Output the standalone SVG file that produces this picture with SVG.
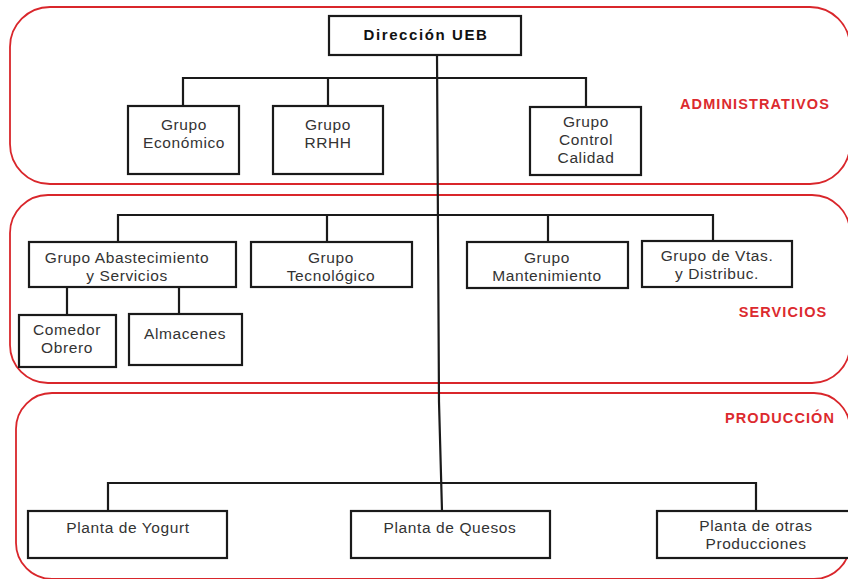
<svg xmlns="http://www.w3.org/2000/svg" width="848" height="579" viewBox="0 0 848 579">
<style>
.region{fill:none;stroke:#d9262b;stroke-width:1.8}
.box{fill:#fff;stroke:#1a1a1a;stroke-width:2.2}
.t{font-family:"Liberation Sans",Arial,sans-serif;font-size:15.5px;fill:#333;text-anchor:middle;letter-spacing:0.6px}
.tb{font-family:"Liberation Sans",Arial,sans-serif;font-size:15px;font-weight:bold;fill:#111;text-anchor:middle;letter-spacing:1.6px}
.lab{font-family:"Liberation Sans",Arial,sans-serif;font-size:14.5px;font-weight:bold;fill:#dc2a2e;text-anchor:middle;letter-spacing:1.1px}
.c{fill:none;stroke:#1a1a1a;stroke-width:2.2}
</style>
<rect width="848" height="579" fill="#fff"/>
<g id="regions">
<rect class="region" x="10" y="7" width="840" height="177" rx="40" ry="40"/>
<rect class="region" x="10" y="195" width="840" height="188" rx="38" ry="38"/>
<rect class="region" x="16" y="393" width="834" height="186" rx="36" ry="36"/>
<text class="lab" x="755" y="109">ADMINISTRATIVOS</text>
<text class="lab" x="783" y="317">SERVICIOS</text>
<text class="lab" x="780" y="423">PRODUCCIÓN</text>
</g>
<g id="connectors">
<path class="c" d="M437,55 L439,402 L442,511"/>
<path class="c" d="M183,106 V78 H586 V106 M328,78 V106"/>
<path class="c" d="M118,242 V215 H713 V241 M327,215 V242 M548,215 V242"/>
<path class="c" d="M67,287 V315 M179,287 V314"/>
<path class="c" d="M108,511 V483 H756 V511"/>
</g>
<g id="n-direccion"><rect class="box" x="329" y="16" width="192" height="39"/><text class="tb" x="426" y="40">Dirección UEB</text></g>
<g id="n-economico"><rect class="box" x="128" y="106" width="111" height="68"/><text class="t" x="184" y="130">Grupo</text><text class="t" x="184" y="148">Económico</text></g>
<g id="n-rrhh"><rect class="box" x="273" y="106" width="110" height="68"/><text class="t" x="328" y="130">Grupo</text><text class="t" x="328" y="148">RRHH</text></g>
<g id="n-calidad"><rect class="box" x="530" y="107" width="111" height="68"/><text class="t" x="586" y="127">Grupo</text><text class="t" x="586" y="145">Control</text><text class="t" x="586" y="163">Calidad</text></g>
<g id="n-abastecimiento"><rect class="box" x="29" y="242" width="207" height="45"/><text class="t" x="127" y="263">Grupo Abastecimiento</text><text class="t" x="127" y="281">y Servicios</text></g>
<g id="n-tecnologico"><rect class="box" x="251" y="242" width="161" height="45"/><text class="t" x="331" y="263">Grupo</text><text class="t" x="331" y="281">Tecnológico</text></g>
<g id="n-mantenimiento"><rect class="box" x="467" y="242" width="161" height="46"/><text class="t" x="547" y="263">Grupo</text><text class="t" x="547" y="281">Mantenimiento</text></g>
<g id="n-ventas"><rect class="box" x="642" y="241" width="150" height="46"/><text class="t" x="717" y="261">Grupo de Vtas.</text><text class="t" x="717" y="279">y Distribuc.</text></g>
<g id="n-comedor"><rect class="box" x="19" y="315" width="97" height="52"/><text class="t" x="67" y="335">Comedor</text><text class="t" x="67" y="353">Obrero</text></g>
<g id="n-almacenes"><rect class="box" x="129" y="314" width="113" height="51"/><text class="t" x="185" y="339">Almacenes</text></g>
<g id="n-yogurt"><rect class="box" x="28" y="511" width="199" height="47"/><text class="t" x="128" y="533">Planta de Yogurt</text></g>
<g id="n-quesos"><rect class="box" x="351" y="511" width="199" height="47"/><text class="t" x="450" y="533">Planta de Quesos</text></g>
<g id="n-otras"><rect class="box" x="657" y="511" width="200" height="47"/><text class="t" x="756" y="531">Planta de otras</text><text class="t" x="756" y="549">Producciones</text></g>
</svg>
